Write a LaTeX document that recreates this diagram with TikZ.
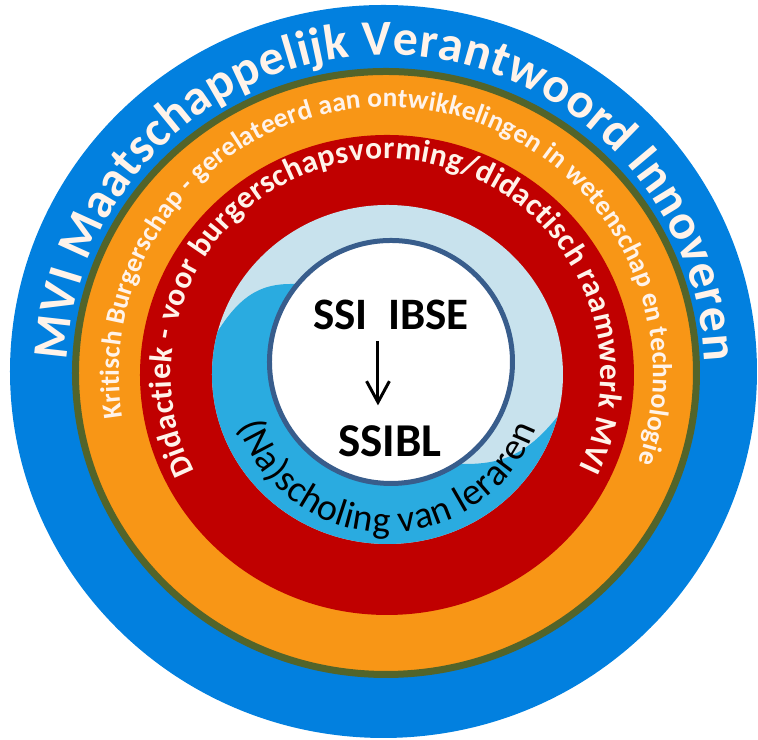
\documentclass[tikz,border=0pt]{standalone}
\usepackage{fontspec}
\setmainfont{Carlito}
\usepackage{tikz}
\usetikzlibrary{calc}
\usetikzlibrary{positioning}
\usetikzlibrary{arrows.meta}
\usetikzlibrary{decorations.text}

\definecolor{mviblue}{RGB}{2,128,223}
\definecolor{burgerorange}{RGB}{248,150,22}
\definecolor{ringolive}{RGB}{82,100,42}
\definecolor{didred}{RGB}{192,0,0}
\definecolor{paleblue}{RGB}{200,226,237}
\definecolor{waveblue}{RGB}{42,171,224}
\definecolor{coreborder}{RGB}{56,93,140}
\definecolor{cream}{RGB}{255,243,234}

\begin{document}
\begin{tikzpicture}[
    ringtext/.style={decorate, decoration={text along path, text align=fit to path, text={#1}}},
    coretext/.style={inner sep=0, anchor=base, font=\fontsize{#1}{#1}\selectfont\bfseries},
    >={Straight Barb[length=6pt,width=6.5pt]}
  ]
    \useasboundingbox (-3.86,-3.66) rectangle (3.72,3.74);

    % rings from outside to inside
    \fill [mviblue] (-0.025,0.025) ellipse [x radius=3.735, y radius=3.665];
    \filldraw [fill=burgerorange, draw=ringolive, line width=0.07cm] (0,0.01) ellipse [x radius=3.105, y radius=3.015];
    \fill [didred] (0.01,-0.01) ellipse [x radius=2.47, y radius=2.40];
    \fill [paleblue] (0.015,-0.005) ellipse [x radius=1.755, y radius=1.695];
    \begin{scope}
      \clip (0.015,-0.005) ellipse [x radius=1.755, y radius=1.695];
      \fill [waveblue] (-1.95,-0.1) .. controls (-1.6,0.7) and (-1.35,0.9) .. (-0.95,0.9)
        .. controls (-0.2,0.95) and (0.1,-0.9) .. (0.8,-0.9)
        .. controls (1.3,-0.9) and (1.55,-0.7) .. (1.95,-0.1) -- (1.95,-2) -- (-1.95,-2) -- cycle;
    \end{scope}
    \filldraw [fill=white, draw=coreborder, line width=0.05cm] (0.05,0.12) circle [radius=1.215];

    % texts along the rings
    \path [ringtext={|\fontsize{14.2}{16}\selectfont\bfseries\color{cream}|MVI Maatschappelijk Verantwoord Innoveren}]
      (177.5:3.19) arc [start angle=177.5, end angle=2.2, radius=3.19];
    \path [ringtext={|\fontsize{7.8}{9}\selectfont\bfseries\color{cream}|Kritisch Burgerschap - gerelateerd aan ontwikkelingen in wetenschap en technologie}]
      (189.4:2.67) arc [start angle=189.4, end angle=-19.3, radius=2.67];
    \path [ringtext={|\fontsize{9}{10}\selectfont\bfseries\color{cream}|Didactiek - voor burgerschapsvorming/didactisch raamwerk MVI}]
      (207:2.15) arc [start angle=207, end angle=-26, radius=2.15];
    \path [ringtext={|\fontsize{10.8}{12}\selectfont\color{black}|(Na)scholing van leraren}]
      ($(0.015,-0.005)+(199:1.58)$) arc [start angle=199, end angle=340, radius=1.58];

    % core
    \node [coretext=12.8] (ssiibse) at (0.05,0.44) {SSI\ \ IBSE};
    \node [coretext=13.4] (ssibl) at (0.04,-0.83) {SSIBL};
    \draw [arrows=->, line width=0.85pt, shorten <=0.1cm, shorten >=0.2cm]
      ([xshift=-0.13cm]ssiibse.south) -- ([xshift=-0.12cm]ssibl.north);

\end{tikzpicture}
\end{document}
